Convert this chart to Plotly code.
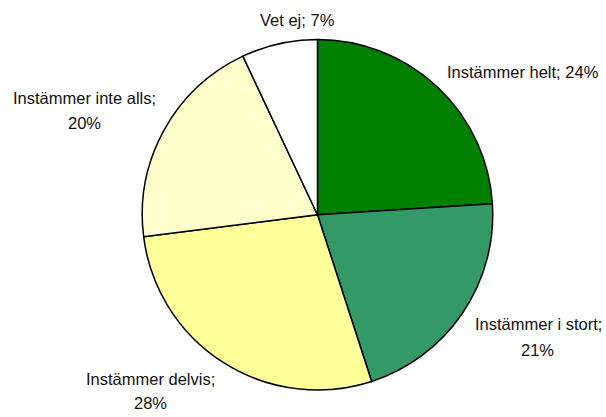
import plotly.graph_objects as go

# ---- data ----
categories = ["Instämmer helt", "Instämmer i stort", "Instämmer delvis",
              "Instämmer inte alls", "Vet ej"]
values = [24, 21, 28, 20, 7]

# ---- style ----
colors = ["#008000", "#339966", "#FFFF99", "#FFFFCC", "#FFFFFF"]
W, H = 606, 417

fig = go.Figure(go.Pie(
    labels=categories,
    values=values,
    sort=False,
    direction="clockwise",
    rotation=0,
    textinfo="none",
    hoverinfo="label+percent",
    marker=dict(colors=colors, line=dict(color="black", width=1.5)),
    domain=dict(x=[142 / W, 493 / W], y=[1 - 390 / H, 1 - 39.5 / H]),
    showlegend=False,
))

# label layout: (category index, split into two lines?, line1 centre px, line2 centre px)
label_layout = [
    (0, False, (523, 72), None),
    (1, True, (538, 324), (537, 350)),
    (2, True, (150, 379), (150, 403)),
    (3, True, (84, 98), (84, 123)),
    (4, False, (297, 20), None),
]

font = dict(family="Liberation Sans, Arial, sans-serif", size=16.5, color="#111111")
anns = []
for idx, two, p1, p2 in label_layout:
    lab, val = categories[idx], values[idx]
    if two:
        texts = [(f"{lab};", p1), (f"{val}%", p2)]
    else:
        texts = [(f"{lab}; {val}%", p1)]
    for t, (px, py) in texts:
        anns.append(dict(text=t, x=px / W, y=1 - py / H, xref="paper", yref="paper",
                         xanchor="center", yanchor="middle", showarrow=False, font=font))

fig.update_layout(
    width=W, height=H,
    margin=dict(l=0, r=0, t=0, b=0),
    paper_bgcolor="white", plot_bgcolor="white",
    annotations=anns,
)

fig.write_html("out.html",
               config={"displayModeBar": False},
               post_script="document.body.style.margin='0';document.body.style.overflow='hidden';")
